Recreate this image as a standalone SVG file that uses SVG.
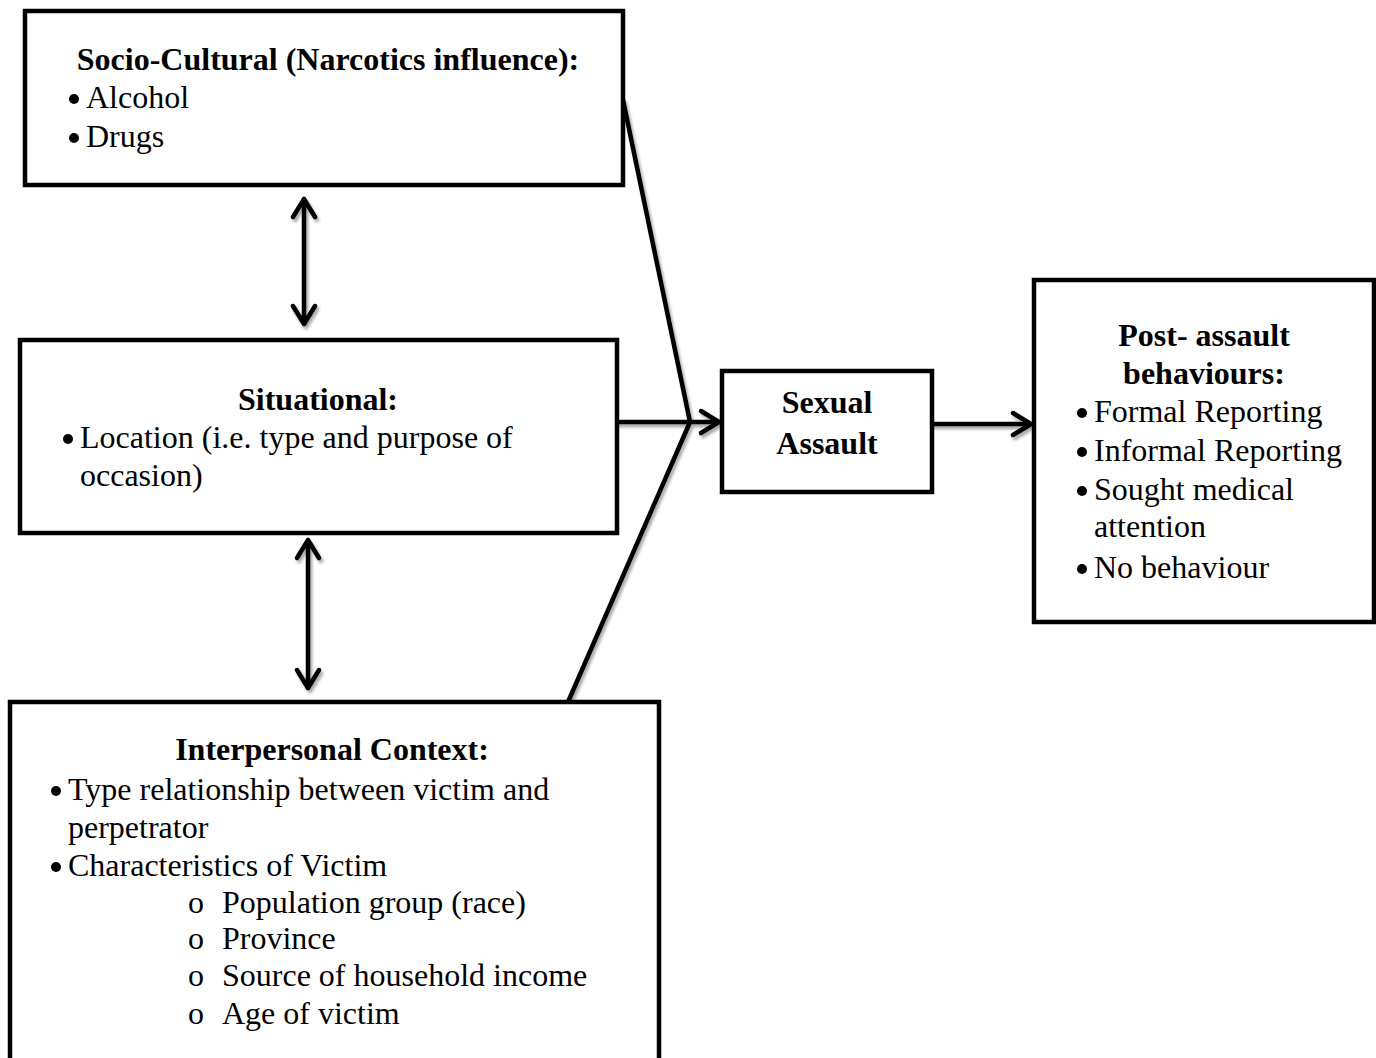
<svg xmlns="http://www.w3.org/2000/svg" width="1376" height="1058" viewBox="0 0 1376 1058">
<defs>
<style>
.box{fill:#fff;stroke:#000;stroke-width:4.5}
.ln{fill:none;stroke:#000;stroke-width:4.5;stroke-linecap:round;stroke-linejoin:round}
text{font-family:"Liberation Serif","Times New Roman",serif;font-size:32px;fill:#000}
.b{font-weight:bold}
.c{text-anchor:middle}
.dot{fill:#000}
</style>
<filter id="sh" x="-20%" y="-20%" width="140%" height="140%">
<feGaussianBlur in="SourceAlpha" stdDeviation="1.5"/>
<feOffset dx="2" dy="3" result="o"/>
<feComponentTransfer><feFuncA type="linear" slope="0.35"/></feComponentTransfer>
<feMerge><feMergeNode/><feMergeNode in="SourceGraphic"/></feMerge>
</filter>
</defs>
<rect width="1376" height="1058" fill="#fff"/>
<g id="connectors" filter="url(#sh)">
<path class="ln" d="M623,100 L690,422"/>
<path class="ln" d="M568,702 L690,422"/>
<path class="ln" d="M617,422 L719,422 M701,411 L719,422 L701,433"/>
<path class="ln" d="M932,424 L1031,424 M1013,413 L1031,424 L1013,435"/>
<path class="ln" d="M304,199 L304,324 M293,217 L304,199 L315,217 M293,306 L304,324 L315,306"/>
<path class="ln" d="M308,540 L308,688 M297,558 L308,540 L319,558 M297,670 L308,688 L319,670"/>
</g>
<g id="socio">
<rect class="box" x="25" y="11" width="598" height="174"/>
<text class="b c" x="328" y="70">Socio-Cultural (Narcotics influence):</text>
<circle class="dot" cx="74" cy="99" r="5"/><text x="86" y="108">Alcohol</text>
<circle class="dot" cx="74" cy="138" r="5"/><text x="86" y="147">Drugs</text>
</g>
<g id="situational">
<rect class="box" x="20" y="340" width="597" height="193"/>
<text class="b c" x="318" y="410">Situational:</text>
<circle class="dot" cx="68" cy="439" r="5"/><text x="80" y="448">Location (i.e. type and purpose of</text>
<text x="80" y="486">occasion)</text>
</g>
<g id="interpersonal">
<rect class="box" x="10" y="702" width="649" height="380"/>
<text class="b c" x="332" y="760">Interpersonal Context:</text>
<circle class="dot" cx="56" cy="791" r="5"/><text x="68" y="800">Type relationship between victim and</text>
<text x="68" y="838">perpetrator</text>
<circle class="dot" cx="56" cy="867" r="5"/><text x="68" y="876">Characteristics of Victim</text>
<text x="188" y="913">o</text><text x="222" y="913">Population group (race)</text>
<text x="188" y="949">o</text><text x="222" y="949">Province</text>
<text x="188" y="986">o</text><text x="222" y="986">Source of household income</text>
<text x="188" y="1024">o</text><text x="222" y="1024">Age of victim</text>
</g>
<g id="sexual-assault">
<rect class="box" x="722" y="371" width="210" height="121"/>
<text class="b c" x="827" y="413">Sexual</text>
<text class="b c" x="827" y="454">Assault</text>
</g>
<g id="post-assault">
<rect class="box" x="1034" y="280" width="340" height="342"/>
<text class="b c" x="1204" y="346">Post- assault</text>
<text class="b c" x="1204" y="384">behaviours:</text>
<circle class="dot" cx="1082" cy="413" r="5"/><text x="1094" y="422">Formal Reporting</text>
<circle class="dot" cx="1082" cy="452" r="5"/><text x="1094" y="461">Informal Reporting</text>
<circle class="dot" cx="1082" cy="491" r="5"/><text x="1094" y="500">Sought medical</text>
<text x="1094" y="537">attention</text>
<circle class="dot" cx="1082" cy="569" r="5"/><text x="1094" y="578">No behaviour</text>
</g>
</svg>
